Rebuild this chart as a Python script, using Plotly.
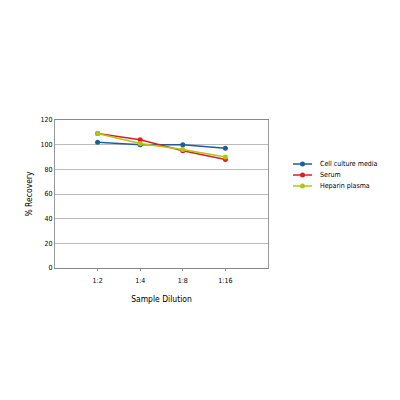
import plotly.graph_objects as go

# sample dilutions
dilutions = ["1:2", "1:4", "1:8", "1:16"]

# % recovery per sample type
cell_culture = [102, 100, 100, 97]
serum = [109, 104, 95, 88]
heparin = [109, 101, 96, 90]

series = [
    ("Cell culture media", cell_culture, "#1f5c9e"),
    ("Serum", serum, "#d42128"),
    ("Heparin plasma", heparin, "#b3c60f"),
]

fnt = "DejaVu Sans Condensed, Liberation Sans Narrow, sans-serif"

fig = go.Figure()
for name, vals, col in series:
    fig.add_trace(go.Scatter(
        x=dilutions, y=vals, name=name, mode="lines+markers",
        line=dict(color=col, width=1.5),
        marker=dict(color=col, size=5),
        showlegend=False,
    ))

# page body adds ~8px, so pull everything up/left
OFF = 8
L, T, W, H = 55 - OFF, 120 - OFF, 213, 148

# compact legend drawn by hand (plotly's own legend rows are too tall)
for i, (name, vals, col) in enumerate(series):
    yp = (T + H - (164 - OFF + i * 11)) / H
    x0, x1, xm, xt = [(v - OFF - L) / W for v in (293, 312, 302.5, 318)]
    fig.add_shape(type="line", xref="paper", yref="paper",
                  x0=x0, x1=x1, y0=yp, y1=yp, line=dict(color=col, width=1.5))
    fig.add_shape(type="circle", xref="paper", yref="paper",
                  x0=xm - 2.5 / W, x1=xm + 2.5 / W, y0=yp - 2.5 / H, y1=yp + 2.5 / H,
                  fillcolor=col, line=dict(color=col, width=0))
    fig.add_annotation(text=name, xref="paper", yref="paper", x=xt, y=yp,
                       xanchor="left", yanchor="middle", showarrow=False,
                       font=dict(size=7, color="#000"))

fig.update_layout(
    width=400, height=400,
    margin=dict(l=L, r=400 - L - W, t=T, b=400 - T - H),
    paper_bgcolor="white", plot_bgcolor="white",
    font=dict(family=fnt, size=7, color="#000"),
    xaxis=dict(
        type="category", range=[-1, 4], automargin=False,
        showgrid=False, showline=True, linecolor="#888", mirror=True,
        ticks="outside", ticklen=2, tickcolor="#888", ticklabelstandoff=4,
        tickfont=dict(size=7),
        title=dict(text="Sample Dilution", font=dict(size=8.5), standoff=11),
    ),
    yaxis=dict(
        range=[0, 120], dtick=20, automargin=False,
        showgrid=True, gridcolor="#bbb", gridwidth=1,
        showline=True, linecolor="#999", mirror=True,
        zeroline=False, ticks="", tickfont=dict(size=7),
        title=dict(text="% Recovery", font=dict(size=8.5), standoff=6),
    ),
)

fig.write_html("out.html")
